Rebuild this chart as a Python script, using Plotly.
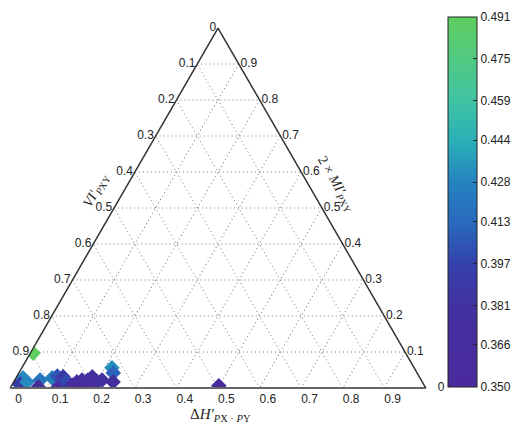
import plotly.graph_objects as go

vi = [0.978, 0.972, 0.989, 0.983, 0.978, 0.997, 0.972, 0.967, 0.997, 0.969,
      0.983, 0.992, 0.983, 0.978, 0.994, 0.978, 0.969, 0.997, 0.983, 0.978,
      0.944, 0.958, 0.983, 0.903, 0.994]
dh = [0.023, 0.045, 0.030, 0.049, 0.083, 0.069, 0.115, 0.130, 0.117, 0.143,
      0.145, 0.153, 0.169, 0.184, 0.183, 0.198, 0.213, 0.201, 0.217, 0.232,
      0.273, 0.269, 0.256, 0.104, 0.505]
val = [0.410, 0.430, 0.390, 0.430, 0.420, 0.362, 0.425, 0.405, 0.365, 0.390,
       0.400, 0.360, 0.370, 0.372, 0.360, 0.366, 0.375, 0.360, 0.370, 0.380,
       0.432, 0.410, 0.370, 0.491, 0.355]

cbar_ticks = [0.350, 0.366, 0.381, 0.397, 0.413, 0.428, 0.444, 0.459, 0.475, 0.491]
cbar_text = ["0.350", "0.366", "0.381", "0.397", "0.413", "0.428", "0.444", "0.459", "0.475", "0.491"]

axis_vals = [1.0, 0.9, 0.8, 0.7, 0.6, 0.5, 0.4, 0.3, 0.2, 0.1]
axis_text = ["0", "0.1", "0.2", "0.3", "0.4", "0.5", "0.6", "0.7", "0.8", "0.9"]

a = [1 - v for v in vi]
b = [1 - d for d in dh]
c = [1 - x - y for x, y in zip(a, b)]

colorscale = [
    [0.0, "#4b2a9c"], [0.2, "#44309f"], [0.33, "#3441ab"], [0.44, "#2a68bc"],
    [0.55, "#2582c0"], [0.66, "#2aaeb8"], [0.77, "#3fc3a4"], [0.88, "#50c984"],
    [1.0, "#5fce5f"],
]

fig = go.Figure(go.Scatterternary(
    a=a, b=b, c=c, mode="markers",
    marker=dict(
        symbol="diamond", size=12, line=dict(width=0),
        color=val, colorscale=colorscale, cmin=0.350, cmax=0.491,
        showscale=True,
        colorbar=dict(
            x=1.053, xanchor="left", y=0.517, yanchor="middle",
            thickness=29, len=370, lenmode="pixels", xpad=0, ypad=0,
            outlinewidth=1, outlinecolor="#222",
            tickvals=cbar_ticks, ticktext=cbar_text,
            ticks="inside", ticklen=4, tickcolor="#222",
            tickfont=dict(family="Liberation Sans", size=12, color="#222"),
        ),
    ),
    hoverinfo="skip",
))

font = dict(family="Liberation Sans", size=12, color="#222")
grid = dict(showgrid=True, gridcolor="#7a7a7a", gridwidth=1, griddash="1px,3px",
            ticks="", tickfont=font, title=dict(text=""),
            tickmode="array", tickvals=axis_vals)

fig.update_layout(
    width=516, height=424,
    margin=dict(l=10, r=90, t=28, b=36, autoexpand=False),
    paper_bgcolor="white", showlegend=False,
    ternary=dict(
        sum=1, bgcolor="white", domain=dict(x=[0, 1], y=[0, 1]),
        aaxis=dict(**grid, ticktext=axis_text, linecolor="#333", linewidth=1.5),
        baxis=dict(**grid, ticktext=["\u00a0" * 5 + t for t in axis_text], linecolor="#666", linewidth=2),
        caxis=dict(**grid, ticktext=["\u00a0" * 3 + "0"] + axis_text[1:], linecolor="#333", linewidth=1.5),
    ),
)

tfont = dict(family="Liberation Serif", size=14, color="#222")
fig.add_annotation(x=0.162, y=0.549, xref="paper", yref="paper", showarrow=False,
                   text="<i>VI'</i><sub><i>P</i>XY</sub>", textangle=-60, font=tfont)
fig.add_annotation(x=0.843, y=0.567, xref="paper", yref="paper", showarrow=False,
                   text="2 × <i>MI'</i><sub><i>P</i>XY</sub>", textangle=60, font=tfont)
fig.add_annotation(x=0.505, y=-0.106, xref="paper", yref="paper", showarrow=False,
                   text="Δ<i>H'</i><sub><i>P</i>X · <i>P</i>Y</sub>",
                   font=dict(family="Liberation Serif", size=15, color="#222"))

fig.write_html("out.html")
